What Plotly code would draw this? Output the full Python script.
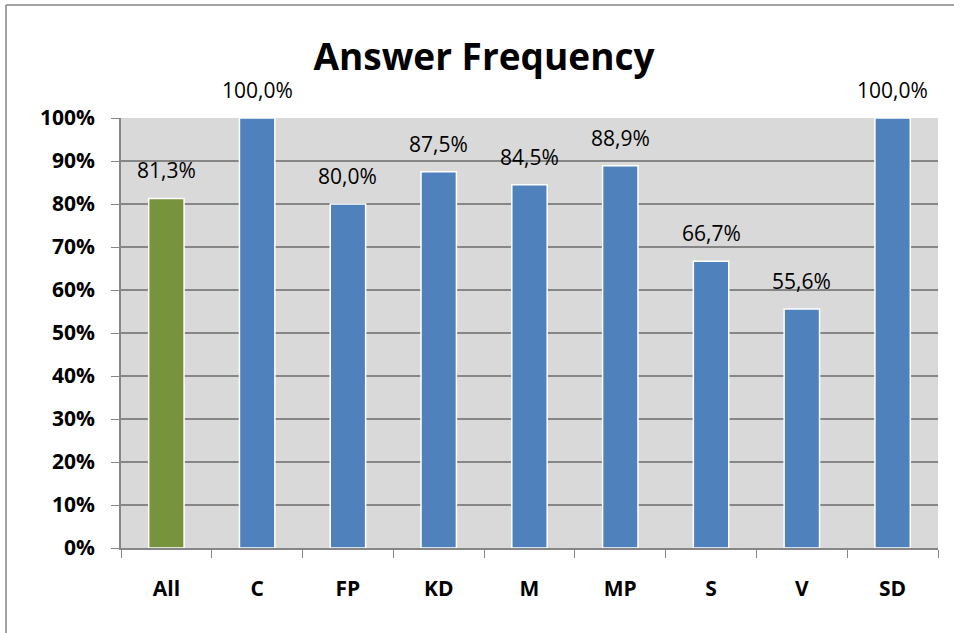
import plotly.graph_objects as go

# data
categories = ['All', 'C', 'FP', 'KD', 'M', 'MP', 'S', 'V', 'SD']
frequency = [0.813, 1.0, 0.80, 0.875, 0.845, 0.889, 0.667, 0.556, 1.0]
bar_colors = ['#77933C'] + ['#4F81BD'] * 8

W, H = 954, 633
L, R, T, B = 121, 16, 118, 85
pw, ph = W - L - R, H - T - B

def px_x(px):
    return (px - L) / pw

def px_y(py):
    return (H - B - py) / ph

FONT = 'Open Sans'

fig = go.Figure()
fig.add_trace(go.Bar(
    x=categories,
    y=frequency,
    marker=dict(color=bar_colors, line=dict(color='white', width=1.5)),
    width=0.39,
    showlegend=False,
))

# value labels above bars
for c, v in zip(categories, frequency):
    fig.add_annotation(
        x=c, y=v, text=f'{v*100:.1f}%'.replace('.', ','),
        showarrow=False, yanchor='bottom', yshift=12,
        font=dict(family=FONT, size=21, color='black'),
    )

# outer frame (left and top edges)
line_style = dict(color='#868686', width=1.5)
fig.add_shape(type='line', xref='paper', yref='paper',
              x0=px_x(6), x1=px_x(6), y0=px_y(5), y1=px_y(H + 5), line=line_style)
fig.add_shape(type='line', xref='paper', yref='paper',
              x0=px_x(6), x1=px_x(W + 5), y0=px_y(5), y1=px_y(5), line=line_style)

fig.update_layout(
    width=W, height=H,
    margin=dict(l=L, r=R, t=T, b=B),
    paper_bgcolor='white',
    plot_bgcolor='#D9D9D9',
    separators=',.',
    title=dict(
        text='<b>Answer Frequency</b>',
        x=484 / W, xanchor='center', xref='container',
        y=1 - 57 / H, yanchor='middle', yref='container',
        font=dict(family=FONT, size=37, color='black'),
    ),
    xaxis=dict(
        tickson='boundaries',
        ticks='outside', ticklen=8, tickcolor='#868686',
        showline=True, linecolor='#868686', linewidth=1.5,
        showgrid=False,
        tickfont=dict(family=FONT, size=21, color='black', weight='bold'),
        ticklabelstandoff=21,
    ),
    yaxis=dict(
        range=[0, 1], dtick=0.1, tickformat='.0%',
        ticks='outside', ticklen=8, tickcolor='#868686',
        showline=True, linecolor='#868686', linewidth=1.5,
        gridcolor='#868686', gridwidth=1.5,
        zeroline=False,
        tickfont=dict(family=FONT, size=21, color='black', weight='bold'),
        ticklabelstandoff=12,
    ),
)

# page body has a default 8px margin; drop it so the figure sits at 0,0
fig.write_html('out.html', config={'displayModeBar': False},
               post_script="document.body.style.margin='0';")
